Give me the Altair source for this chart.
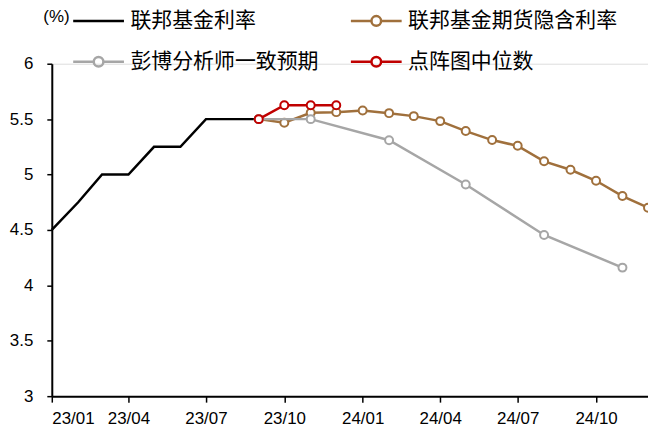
import altair as alt
import pandas as pd

# ---------------- data ----------------
series_names = ["联邦基金利率", "联邦基金期货隐含利率", "彭博分析师一致预期", "点阵图中位数"]
series_colors = ["#000000", "#A0703C", "#A6A6A6", "#C00000"]
# legend fills columns first: order entries so the grid reads like the reference
legend_order = [0, 2, 1, 3]

fed_dates = ["2023-01-01", "2023-02-01", "2023-03-01", "2023-04-01", "2023-05-01",
             "2023-06-01", "2023-07-01", "2023-08-01", "2023-09-01"]
fed_values = [4.5, 4.75, 5.0, 5.0, 5.25, 5.25, 5.5, 5.5, 5.5]

futures_dates = ["2023-09-01", "2023-10-01", "2023-11-01", "2023-12-01",
                 "2024-01-01", "2024-02-01", "2024-03-01", "2024-04-01",
                 "2024-05-01", "2024-06-01", "2024-07-01", "2024-08-01",
                 "2024-09-01", "2024-10-01", "2024-11-01", "2024-12-01"]
futures_values = [5.5, 5.467, 5.557, 5.563, 5.578, 5.554, 5.527, 5.482,
                  5.392, 5.311, 5.259, 5.119, 5.043, 4.944, 4.806, 4.701]

bbg_dates = ["2023-09-01", "2023-11-01", "2024-02-01", "2024-05-01", "2024-08-01", "2024-11-01"]
bbg_values = [5.5, 5.5, 5.31, 4.91, 4.455, 4.16]

dot_dates = ["2023-09-01", "2023-10-01", "2023-11-01", "2023-12-01"]
dot_values = [5.5, 5.625, 5.625, 5.625]

x_tick_dates = ["2023-01-01", "2023-04-01", "2023-07-01", "2023-10-01",
                "2024-01-01", "2024-04-01", "2024-07-01", "2024-10-01"]
y_ticks = [3, 3.5, 4, 4.5, 5, 5.5, 6]

# ---------------- table ----------------
frames = []
for name, d, v in zip(series_names,
                      [fed_dates, futures_dates, bbg_dates, dot_dates],
                      [fed_values, futures_values, bbg_values, dot_values]):
    frames.append(pd.DataFrame({"date": d, "value": v, "series": name}))
df = pd.concat(frames, ignore_index=True)


def dt(s):
    y, m, d = (int(p) for p in s.split("-"))
    return alt.DateTime(year=y, month=m, date=d, utc=True)


x_enc = alt.X(
    "date:T",
    scale=alt.Scale(type="utc", domain=[dt("2023-01-01"), dt("2024-12-01")]),
    axis=alt.Axis(
        values=[dt(s) for s in x_tick_dates], format="%y/%m", title=None, grid=False,
        domainColor="black", domainWidth=2, tickColor="black", tickWidth=1.5, tickSize=6,
        labelFont="Liberation Sans", labelFontSize=17, labelColor="black", labelPadding=8,
    ),
)
y_enc = alt.Y(
    "value:Q",
    scale=alt.Scale(domain=[3, 6], nice=False, zero=False),
    axis=alt.Axis(
        values=y_ticks, format="~g", grid=False,
        domainColor="black", domainWidth=2, tickColor="black", tickWidth=1.5, tickSize=5,
        labelFont="Liberation Sans", labelFontSize=17, labelColor="black", labelPadding=14,
        title="(%)", titleAngle=0, titleX=-9, titleY=-47, titleAlign="left",
        titleBaseline="middle", titleFont="Liberation Sans", titleFontSize=17,
        titleFontWeight="normal", titleColor="black",
    ),
)

leg_names = [series_names[i] for i in legend_order]
leg_colors = [series_colors[i] for i in legend_order]
color_scale = alt.Scale(domain=leg_names, range=leg_colors)

# legend-only layer (no marks drawn) -- placed first so its legend settings win
r = 0.19
line_only = "M-1,0H1"
line_circle = (f"M-1,0H-{r}M{r},0H1M{r},0A{r},{r},0,1,1,-{r},0A{r},{r},0,1,1,{r},0Z")
leg_paths = [line_only if i == 0 else line_circle for i in legend_order]

legend_props = dict(
    title=None, orient="none", legendX=20, legendY=-70, columns=2,
    columnPadding=27, rowPadding=4, symbolSize=2601, symbolStrokeWidth=2.5,
    symbolOpacity=1, labelFont="Noto Sans CJK SC", labelFontSize=21, labelColor="black",
    labelOffset=5, labelLimit=400, padding=0,
)
legend_layer = alt.Chart(df).transform_filter("false").mark_point(filled=False, opacity=1).encode(
    x=x_enc, y=y_enc,
    color=alt.Color("series:N", scale=color_scale, legend=alt.Legend(**legend_props)),
    shape=alt.Shape("series:N", scale=alt.Scale(domain=leg_names, range=leg_paths),
                    legend=alt.Legend(**legend_props)),
)

layers = [legend_layer]
for name in series_names:
    base = alt.Chart(df).transform_filter(alt.datum.series == name)
    layers.append(
        base.mark_line(strokeWidth=2.5).encode(
            x=x_enc, y=y_enc, color=alt.Color("series:N", scale=color_scale, legend=None)
        )
    )
    if name != series_names[0]:
        layers.append(
            base.mark_point(shape="circle", filled=False, fill="white", size=64,
                            strokeWidth=2, opacity=1).encode(
                x=x_enc, y=y_enc, color=alt.Color("series:N", scale=color_scale, legend=None)
            )
        )

chart = alt.layer(*layers).properties(
    width=599, height=334,
    autosize=alt.AutoSizeParams(type="none"),
    padding={"left": 44, "top": 55, "right": 0, "bottom": 30},
).configure_view(stroke=None).configure(background="white")

chart.save("out.html", embed_options={"renderer": "svg", "actions": False})
